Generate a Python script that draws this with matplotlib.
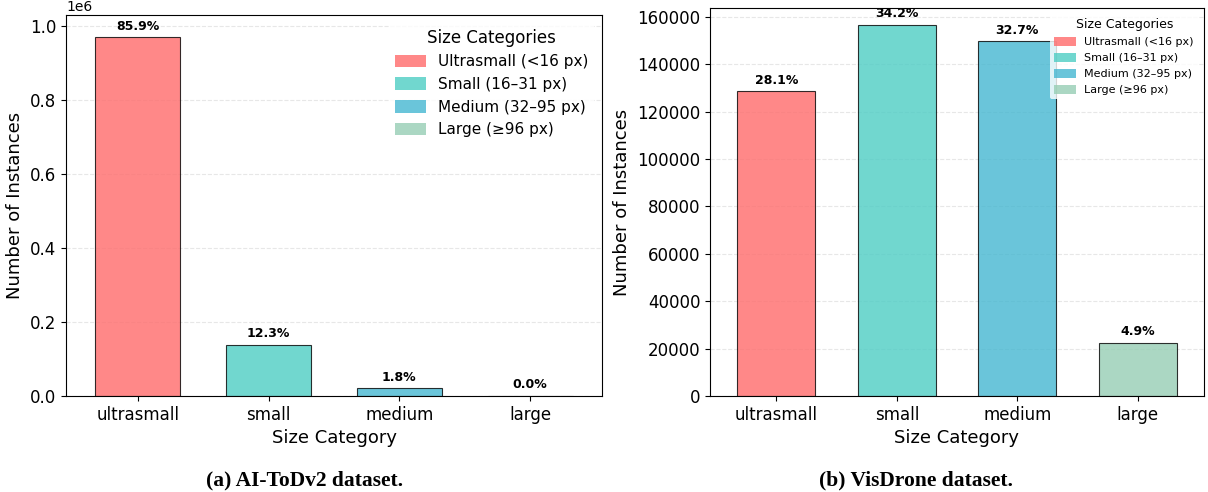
import matplotlib
matplotlib.use("Agg")
import matplotlib.pyplot as plt
from matplotlib.patches import Patch
import numpy as np

categories = ["ultrasmall", "small", "medium", "large"]
legend_labels = ["Ultrasmall (<16 px)", "Small (16\u201331 px)", "Medium (32\u201395 px)", "Large (\u226596 px)"]
colors = ["#FF6B6B", "#4ECDC4", "#45B7D1", "#96CEB4"]

aitod_counts = [970000, 139000, 20500, 300]
aitod_pct = [85.9, 12.3, 1.8, 0.0]
visdrone_counts = [128600, 156500, 149700, 22400]
visdrone_pct = [28.1, 34.2, 32.7, 4.9]

captions = ["(a) AI-ToDv2 dataset.", "(b) VisDrone dataset."]

fig = plt.figure(figsize=(12.08, 4.92), dpi=100)
ax1 = fig.add_axes([66/1208, 1-396/492, 536/1208, 381/492])
ax2 = fig.add_axes([710/1208, 1-396/492, 494/1208, 388/492])


def draw(ax, counts, pct, top, legend_fs, hl):
    x = np.arange(len(categories))
    bars = ax.bar(x, counts, width=0.65, color=colors, alpha=0.8,
                  edgecolor="black", linewidth=0.8)
    for b, p in zip(bars, pct):
        ax.text(b.get_x() + b.get_width()/2, b.get_height() + top*0.012,
                f"{p:.1f}%", ha="center", va="bottom", fontsize=9, fontweight="bold")
    ax.set_xticks(x)
    ax.set_xticklabels(categories, fontsize=12)
    ax.tick_params(axis="y", labelsize=12)
    ax.set_xlabel("Size Category", fontsize=13)
    ax.set_ylabel("Number of Instances", fontsize=13)
    ax.set_ylim(0, top)
    ax.set_xlim(-0.55, 3.55)
    ax.grid(axis="y", linestyle="--", alpha=0.3)
    ax.set_axisbelow(True)
    handles = [Patch(facecolor=c, alpha=0.8, edgecolor="none") for c in colors]
    leg = ax.legend(handles, legend_labels, title="Size Categories", fontsize=legend_fs,
                    title_fontsize=legend_fs + 1, loc="upper right", frameon=True,
                    handlelength=hl, handleheight=0.9)
    leg.get_frame().set_edgecolor("none")


draw(ax1, aitod_counts, aitod_pct, 1.03e6, 11, 2.0)
draw(ax2, visdrone_counts, visdrone_pct, 163700, 8, 1.9)

fig.text(305/1208, 1-480/492, captions[0], ha="center", va="center",
         fontsize=15.5, fontweight="bold", family="Liberation Serif")
fig.text(916/1208, 1-480/492, captions[1], ha="center", va="center",
         fontsize=15.5, fontweight="bold", family="Liberation Serif")

fig.savefig("out.png", dpi=100)
